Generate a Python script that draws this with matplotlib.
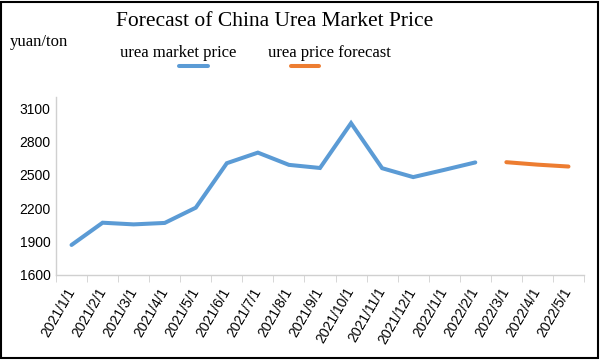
import matplotlib.pyplot as plt
from matplotlib.lines import Line2D
from matplotlib.patches import Rectangle
import numpy as np

dates = ['2021/1/1', '2021/2/1', '2021/3/1', '2021/4/1', '2021/5/1', '2021/6/1',
         '2021/7/1', '2021/8/1', '2021/9/1', '2021/10/1', '2021/11/1', '2021/12/1',
         '2022/1/1', '2022/2/1', '2022/3/1', '2022/4/1', '2022/5/1']
market = [1870, 2070, 2055, 2068, 2205, 2605, 2700, 2590, 2562, 2965, 2560, 2480,
          2545, 2612, None, None, None]
forecast = [None] * 14 + [2614, 2592, 2575]
yticks = [1600, 1900, 2200, 2500, 2800, 3100]

blue = '#5B9BD5'
orange = '#ED7D31'
W, H = 602, 362

fig = plt.figure(figsize=(W / 100, H / 100), dpi=100, facecolor='white')
ax = fig.add_axes([56 / W, 1 - 275 / H, (584 - 56) / W, (275 - 97) / H])

x = np.arange(len(dates))
m = np.array([np.nan if v is None else v for v in market], dtype=float)
f = np.array([np.nan if v is None else v for v in forecast], dtype=float)
ax.plot(x, m, color=blue, lw=2.9, solid_capstyle='round', solid_joinstyle='miter')
ax.plot(x, f, color=orange, lw=2.9, solid_capstyle='round')

ax.set_xlim(-0.5, len(dates) - 0.5)
ax.set_ylim(1600, 3200)
ax.set_yticks(yticks)
ax.set_yticklabels([str(v) for v in yticks], fontsize=10, family='Liberation Sans')
ax.set_xticks(x)
ax.set_xticklabels(dates, rotation=60, ha='right', va='center', rotation_mode='anchor',
                   fontsize=10, family='Liberation Sans')
ax.set_xticks(np.arange(-0.5, len(dates)), minor=True)
ax.tick_params(axis='x', which='major', length=0, pad=10)
ax.tick_params(axis='x', which='minor', length=5, color='#d0d0d0')
ax.tick_params(axis='y', length=0, pad=4)
for s in ['top', 'right']:
    ax.spines[s].set_visible(False)
for s in ['left', 'bottom']:
    ax.spines[s].set_color('#d0d0d0')
    ax.spines[s].set_linewidth(1)

# title and labels
serif = 'Liberation Serif'
fig.text(275 / W, 1 - 22 / H, 'Forecast of China Urea Market Price', ha='center', va='center',
         fontsize=15.5, family=serif)
fig.text(10 / W, 1 - 42 / H, 'yuan/ton', ha='left', va='center', fontsize=12,
         family=serif)

# legend (Excel-style: text with line beneath)
fig.text(120 / W, 1 - 53 / H, 'urea market price', ha='left', va='center', fontsize=12,
         family=serif)
fig.text(268 / W, 1 - 53 / H, 'urea price forecast', ha='left', va='center', fontsize=12,
         family=serif)
fig.add_artist(Line2D([179 / W, 208 / W], [1 - 66 / H] * 2, color=blue, lw=2.9,
                      solid_capstyle='round'))
fig.add_artist(Line2D([291 / W, 319 / W], [1 - 66 / H] * 2, color=orange, lw=2.9,
                      solid_capstyle='round'))

# chart border
fig.add_artist(Rectangle((1 / W, 4 / H), 597 / W, 356 / H, transform=fig.transFigure,
                         fill=False, edgecolor='black', lw=1.5))

fig.savefig('out.png', dpi=100, facecolor='white')
